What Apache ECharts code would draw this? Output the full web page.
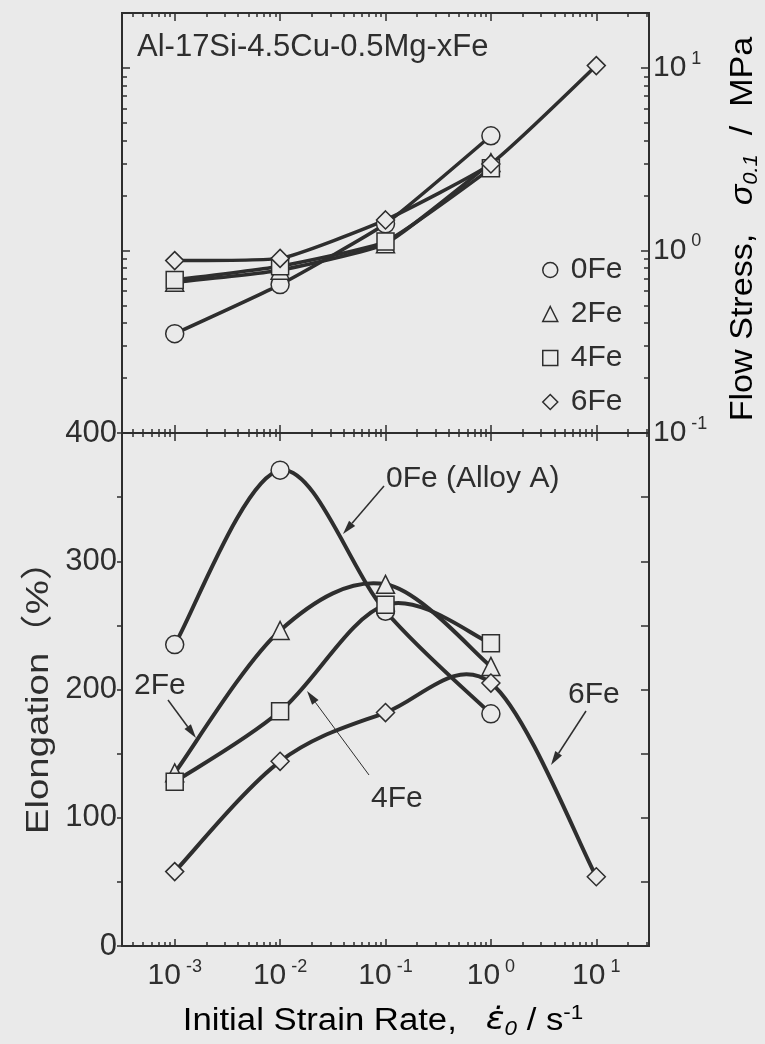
<!DOCTYPE html>
<html>
<head>
<meta charset="utf-8">
<script src="https://cdn.jsdelivr.net/npm/echarts@6.0.0/dist/echarts.min.js"></script>
<style>
html, body { margin: 0; padding: 0; background: #eaeaea; }
#chart { width: 765px; height: 1044px; }
</style>
</head>
<body>
<div id="chart"></div>
<script>
// initial strain rate, s^-1
const strainRates = [1e-3, 1e-2, 1e-1, 1e0, 1e1];
// flow stress sigma_0.1 (MPa), upper panel
const stress0Fe = [0.35, 0.65, 1.40, 4.25, null];
const stress2Fe = [0.67, 0.78, 1.09, 3.03, null];
const stress4Fe = [0.69, 0.82, 1.12, 2.82, null];
const stress6Fe = [0.88, 0.905, 1.47, 2.98, 10.3];
// elongation (%), lower panel
const elong0Fe = [235, 371, 261, 181, null];
const elong2Fe = [135, 246, 282, 218, null];
const elong4Fe = [128, 183, 266, 236, null];
const elong6Fe = [58, 144, 182, 205, 54];

const seriesNames = ['0Fe', '2Fe', '4Fe', '6Fe'];
const seriesSymbols = ['circle', 'triangle', 'rect', 'diamond'];
// tick labels (decade exponents)
const rateExps = [-3, -2, -1, 0, 1];
const stressExps = [-1, 0, 1];
const minorMults = [2, 3, 4, 5, 6, 7, 8, 9];

const bg = '#eaeaea';
const ink = '#2e2e2e';
const font = '"Liberation Sans", Arial, sans-serif';
const xLo = -3.5, xHi = 1.5;          // x range in decades
const yLo = -1, yHi = Math.log10(20); // stress range in decades

function pairs(ys) {
    return strainRates.map((x, i) => [x, ys[i]]).filter(p => p[1] != null);
}
function minorExps(lo, hi) {
    let out = [];
    for (let d = Math.floor(lo); d < hi; d++) {
        minorMults.forEach(k => {
            let e = d + Math.log10(k);
            if (e > lo + 1e-6 && e < hi - 1e-6) out.push(e);
        });
    }
    return out;
}
// axis that only draws ticks (decade exponent scale)
function tickAxis(grid, pos, min, max, ticks, len, inside, extra) {
    return Object.assign({
        type: 'value', gridIndex: grid, position: pos, min: min, max: max,
        axisLine: { show: false, onZero: false },
        splitLine: { show: false },
        axisLabel: { show: false },
        axisTick: { show: true, inside: inside, length: len, customValues: ticks,
            lineStyle: { color: ink, width: 1.5 } }
    }, extra || {});
}
const expRich = {
    b: { fontSize: 30, lineHeight: 36, fontFamily: font, color: ink },
    s: { fontSize: 18, lineHeight: 18, verticalAlign: 'top', fontFamily: font, color: ink }
};
function expLabel(v) { return '{b|10}{s| ' + Math.round(v) + '}'; }

function arrow(x1, y1, x2, y2, w) {
    let a = Math.atan2(y2 - y1, x2 - x1), L = 14, H = 4;
    let bx = x2 - L * Math.cos(a), by = y2 - L * Math.sin(a);
    let px = -Math.sin(a) * H, py = Math.cos(a) * H;
    return [
        { type: 'line', silent: true, shape: { x1: x1, y1: y1, x2: bx, y2: by }, style: { stroke: ink, lineWidth: w } },
        { type: 'polygon', silent: true, shape: { points: [[x2, y2], [bx + px, by + py], [bx - px, by - py]] }, style: { fill: ink } }
    ];
}
function label(text, x, y, size) {
    return { type: 'text', silent: true, x: x, y: y,
        style: { text: text, fontSize: size || 30, fontFamily: font, fill: ink, align: 'left', verticalAlign: 'middle' } };
}

// smooth curve (Catmull-Rom through the data points, in pixel space)
function curveSeries(ys, i) {
    let pts = pairs(ys);
    return {
        name: seriesNames[i], type: 'custom', coordinateSystem: 'cartesian2d', xAxisIndex: 1, yAxisIndex: 1,
        data: pts, silent: true, z: 2,
        renderItem: function (params, api) {
            let k = params.dataIndex;
            if (k >= pts.length - 1) return null;
            let p0 = api.coord(pts[Math.max(k - 1, 0)]);
            let p1 = api.coord(pts[k]);
            let p2 = api.coord(pts[k + 1]);
            let p3 = api.coord(pts[Math.min(k + 2, pts.length - 1)]);
            return {
                type: 'bezierCurve',
                shape: {
                    x1: p1[0], y1: p1[1], x2: p2[0], y2: p2[1],
                    cpx1: p1[0] + (p2[0] - p0[0]) / 6, cpy1: p1[1] + (p2[1] - p0[1]) / 6,
                    cpx2: p2[0] - (p3[0] - p1[0]) / 6, cpy2: p2[1] - (p3[1] - p1[1]) / 6
                },
                style: { stroke: ink, lineWidth: 4, fill: null, lineCap: 'round' }
            };
        }
    };
}

const xMinor = minorExps(xLo, xHi);
const yMinor = minorExps(yLo, yHi);
const stressData = [stress0Fe, stress2Fe, stress4Fe, stress6Fe];
const elongData = [elong0Fe, elong2Fe, elong4Fe, elong6Fe];

let series = [];
stressData.forEach((d, i) => {
    series.push({
        name: seriesNames[i], type: 'line', xAxisIndex: 0, yAxisIndex: 0,
        data: pairs(d), symbol: seriesSymbols[i], symbolSize: seriesSymbols[i] == 'rect' ? 17 : 18,
        smooth: 0.15, lineStyle: { color: ink, width: 3.5 },
        itemStyle: { color: bg, borderColor: ink, borderWidth: 1.5 },
        emphasis: { disabled: true }
    });
});
elongData.forEach((d, i) => series.push(curveSeries(d, i)));
elongData.forEach((d, i) => {
    series.push({
        name: seriesNames[i], type: 'scatter', xAxisIndex: 1, yAxisIndex: 1, z: 3,
        data: pairs(d), symbol: seriesSymbols[i], symbolSize: seriesSymbols[i] == 'rect' ? 17 : 18,
        itemStyle: { color: bg, borderColor: ink, borderWidth: 1.5, opacity: 1 },
        emphasis: { disabled: true }
    });
});

let myChart = echarts.init(document.getElementById('chart'));
let option = {
    backgroundColor: bg,
    animation: false,
    textStyle: { fontFamily: font, color: ink },
    grid: [
        { left: 122, right: 116, top: 13, height: 420, show: true, borderColor: ink, borderWidth: 2, backgroundColor: 'transparent', outerBoundsMode: 'none' },
        { left: 122, right: 116, top: 433, height: 513, show: true, borderColor: ink, borderWidth: 2, backgroundColor: 'transparent', outerBoundsMode: 'none' }
    ],
    legend: {
        orient: 'vertical', left: 537, top: 250, itemWidth: 15, itemHeight: 15, itemGap: 14,
        selectedMode: false,
        data: seriesNames.map((n, i) => ({ name: n, icon: seriesSymbols[i] })),
        itemStyle: { color: bg, borderColor: ink, borderWidth: 1.5 },
        textStyle: { fontSize: 30, fontFamily: font, color: ink, padding: [0, 0, 0, 8] }
    },
    xAxis: [
        { type: 'log', gridIndex: 0, min: Math.pow(10, xLo), max: Math.pow(10, xHi), show: false },
        { type: 'log', gridIndex: 1, min: Math.pow(10, xLo), max: Math.pow(10, xHi), show: false },
        tickAxis(0, 'bottom', xLo, xHi, xMinor, 4, true),
        tickAxis(0, 'bottom', xLo, xHi, rateExps, 8, true),
        tickAxis(0, 'top', xLo, xHi, xMinor, 4, true),
        tickAxis(0, 'top', xLo, xHi, rateExps, 8, true),
        tickAxis(1, 'top', xLo, xHi, xMinor, 4, true),
        tickAxis(1, 'top', xLo, xHi, rateExps, 8, true),
        tickAxis(1, 'bottom', xLo, xHi, xMinor, 4, true),
        tickAxis(1, 'bottom', xLo, xHi, rateExps, 7, true, {
            axisLabel: { show: true, customValues: rateExps, margin: 12, formatter: expLabel, rich: expRich }
        })
    ],
    yAxis: [
        { type: 'log', gridIndex: 0, min: 0.1, max: 20, show: false },
        { type: 'value', gridIndex: 1, position: 'left', min: 0, max: 400, interval: 50,
            axisLine: { show: false, onZero: false }, splitLine: { show: false },
            axisTick: { show: true, inside: false, length: 5, lineStyle: { color: ink, width: 1.5 } },
            axisLabel: { margin: 5, fontSize: 31, fontFamily: font, color: ink,
                formatter: v => (v % 100 == 0 ? String(v) : '') } },
        { type: 'value', gridIndex: 1, position: 'right', min: 0, max: 400, interval: 50,
            axisLine: { show: false, onZero: false }, splitLine: { show: false },
            axisTick: { show: true, inside: true, length: 8, lineStyle: { color: ink, width: 1.5 } },
            axisLabel: { show: false } },
        tickAxis(0, 'left', yLo, yHi, yMinor, 5, true),
        tickAxis(0, 'left', yLo, yHi, stressExps, 8, true),
        tickAxis(0, 'right', yLo, yHi, yMinor, 5, true),
        tickAxis(0, 'right', yLo, yHi, stressExps, 8, true, {
            axisLabel: { show: true, customValues: stressExps, margin: 4, formatter: expLabel, rich: expRich }
        })
    ],
    graphic: [
        label('Al-17Si-4.5Cu-0.5Mg-xFe', 137, 47, 31),
        label('0Fe (Alloy A)', 386, 479),
        label('2Fe', 134, 686),
        label('4Fe', 371, 799),
        label('6Fe', 568, 695),
        ...arrow(384, 486, 343, 534, 1.5),
        ...arrow(168, 700, 196, 738, 1.5),
        ...arrow(369, 775, 307, 691, 1),
        ...arrow(586, 711, 551, 765, 1.5),
        { type: 'text', silent: true, x: 39, y: 688, rotation: Math.PI / 2, scaleX: 1.2,
            style: { text: 'Elongation（%）', fontSize: 32, fontFamily: font + ', "Noto Sans CJK JP"', fill: ink, align: 'center', verticalAlign: 'middle' } },
        { type: 'text', silent: true, x: 743, y: 229, rotation: Math.PI / 2, scaleX: 1.1,
            style: { text: '{n|Flow Stress,   }{i|σ}{sub|0.1}{n|  /  MPa}', align: 'center', verticalAlign: 'middle',
                rich: {
                    n: { fontSize: 31, lineHeight: 36, fontFamily: font, color: ink },
                    i: { fontSize: 31, lineHeight: 36, fontStyle: 'italic', fontFamily: font, color: ink },
                    sub: { fontSize: 20, lineHeight: 18, verticalAlign: 'bottom', fontStyle: 'italic', fontFamily: font, color: ink }
                } } },
        { type: 'text', silent: true, x: 383, y: 1021, scaleX: 1.12,
            style: { text: '{n|Initial Strain Rate,   }{i|ε̇}{sub|0}{n| / s}{sup|-1}', align: 'center', verticalAlign: 'middle',
                rich: {
                    n: { fontSize: 31, lineHeight: 36, fontFamily: font, color: ink },
                    i: { fontSize: 31, lineHeight: 36, fontStyle: 'italic', fontFamily: '"DejaVu Sans", ' + font, color: ink },
                    sub: { fontSize: 20, lineHeight: 18, verticalAlign: 'bottom', fontStyle: 'italic', fontFamily: font, color: ink },
                    sup: { fontSize: 20, lineHeight: 18, verticalAlign: 'top', fontFamily: font, color: ink }
                } } }
    ],
    series: series
};
option && myChart.setOption(option);
</script>
</body>
</html>
